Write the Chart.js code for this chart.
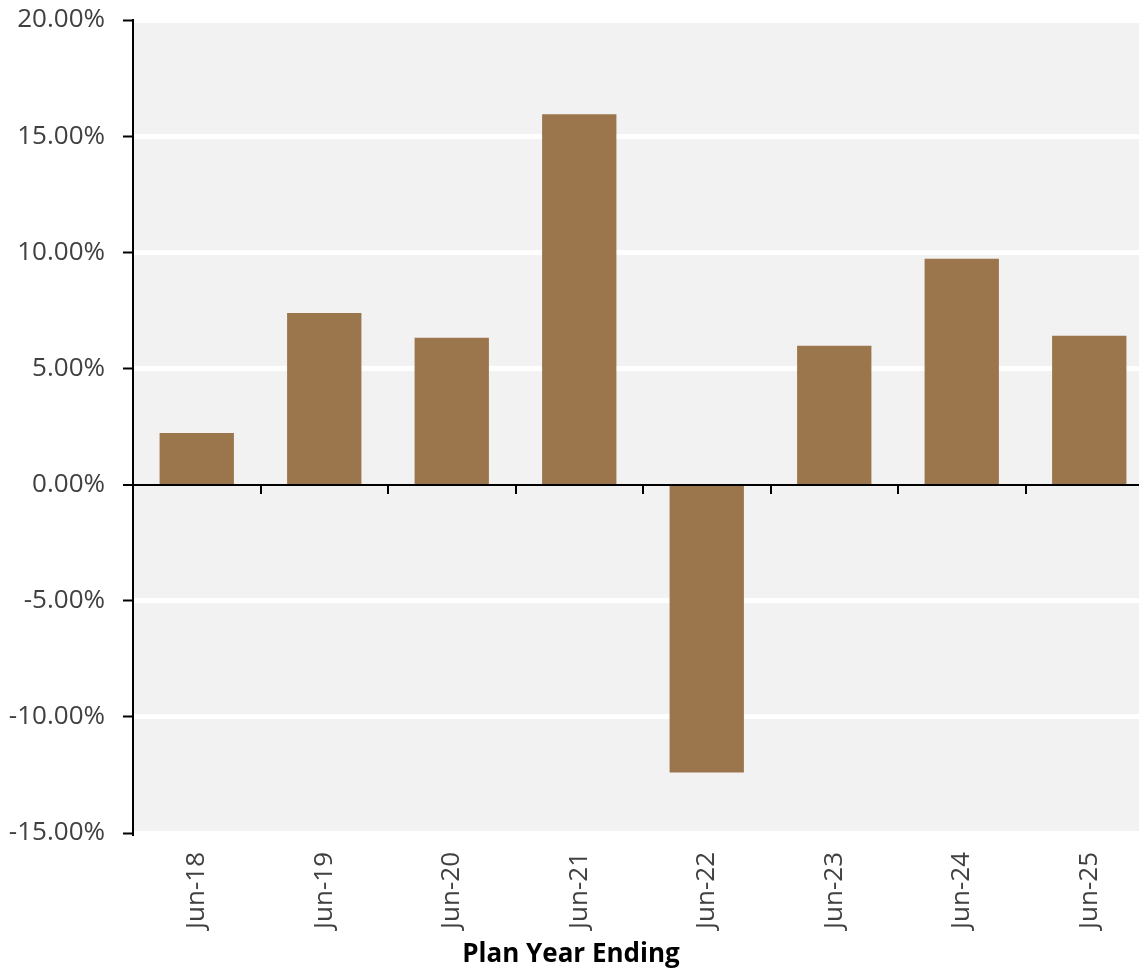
<!DOCTYPE html>
<html>
<head>
<meta charset="utf-8">
<script src="https://cdn.jsdelivr.net/npm/chart.js@4/dist/chart.umd.min.js"></script>
<style>
  html, body { margin: 0; padding: 0; background: #ffffff; overflow: hidden; }
  #wrap { position: relative; width: 1153px; height: 969px; }
</style>
</head>
<body>
<div id="wrap"><canvas id="chart"></canvas></div>
<script>
// Annual plan returns by plan year end
const categories = ['Jun-18', 'Jun-19', 'Jun-20', 'Jun-21', 'Jun-22', 'Jun-23', 'Jun-24', 'Jun-25'];
const returnsPct = [2.20, 7.37, 6.30, 15.92, -12.37, 5.95, 9.70, 6.39];
const yTicks = [-15, -10, -5, 0, 5, 10, 15, 20];
const xTitle = 'Plan Year Ending';

const FONT = "'Open Sans', 'Noto Sans', sans-serif";
const isZeroTick = ctx => !!ctx.tick && Math.abs(ctx.tick.value) < 1e-9;

// Light grey plot background behind the gridlines
const plotBackground = {
  id: 'plotBackground',
  beforeDraw(chart) {
    const { ctx, chartArea: a } = chart;
    ctx.save();
    ctx.fillStyle = '#f2f2f2';
    ctx.fillRect(a.left, a.top, a.right - a.left, a.bottom - a.top);
    ctx.restore();
  }
};

// Black zero baseline with small tick marks between categories
const zeroBaseline = {
  id: 'zeroBaseline',
  afterDatasetsDraw(chart) {
    const { ctx, chartArea: a } = chart;
    const x = chart.scales.x, y = chart.scales.y;
    const y0 = Math.round(y.getPixelForValue(0));
    ctx.save();
    ctx.strokeStyle = '#000';
    ctx.lineWidth = 2;
    ctx.beginPath();
    ctx.moveTo(a.left, y0);
    ctx.lineTo(a.right, y0);
    ctx.stroke();
    ctx.beginPath();
    for (let i = 1; i < categories.length; i++) {
      const bx = Math.round((x.getPixelForValue(i - 1) + x.getPixelForValue(i)) / 2);
      ctx.moveTo(bx, y0);
      ctx.lineTo(bx, y0 + 9);
    }
    ctx.stroke();
    ctx.restore();
  }
};

// Axis caption under the rotated category labels, centred on the visible page
const axisCaption = {
  id: 'axisCaption',
  afterDraw(chart) {
    const { ctx } = chart;
    ctx.save();
    ctx.fillStyle = '#000';
    ctx.font = "bold 26px " + FONT;
    ctx.textAlign = 'center';
    ctx.textBaseline = 'alphabetic';
    ctx.fillText(xTitle, 571, 962);
    ctx.restore();
  }
};

new Chart(document.getElementById('chart'), {
  type: 'bar',
  data: {
    labels: categories,
    datasets: [{
      data: returnsPct,
      backgroundColor: '#9b754c',
      borderWidth: 0,
      borderSkipped: false,
      inflateAmount: 0.5,
      barPercentage: 0.575,
      categoryPercentage: 1.0
    }]
  },
  options: {
    responsive: true,
    maintainAspectRatio: false,
    animation: false,
    layout: { padding: { top: 20, left: 0, right: 0, bottom: 0 } },
    plugins: {
      legend: { display: false },
      tooltip: { enabled: false }
    },
    scales: {
      x: {
        grid: { display: false, drawTicks: false },
        border: { display: false },
        ticks: {
          minRotation: 90,
          maxRotation: 90,
          padding: 19,
          color: '#404040',
          font: { family: FONT, size: 26 }
        },
        afterFit(scale) { scale.height = 136; }
      },
      y: {
        min: -15,
        max: 20,
        afterBuildTicks(scale) { scale.ticks = yTicks.map(v => ({ value: v })); },
        grid: {
          color: ctx => isZeroTick(ctx) ? 'rgba(0,0,0,0)' : '#ffffff',
          lineWidth: ctx => isZeroTick(ctx) ? 0 : 5,
          drawTicks: true,
          tickLength: 10,
          tickWidth: 2,
          tickColor: '#000'
        },
        border: { display: true, color: '#000', width: 2 },
        ticks: {
          padding: 18,
          color: '#404040',
          font: { family: FONT, size: 26 },
          callback: v => Number(v).toFixed(2) + '%'
        },
        afterFit(scale) {
          scale.width = 133;
          scale.paddingTop = 0;
          scale.paddingBottom = 0;
        }
      }
    }
  },
  plugins: [plotBackground, zeroBaseline, axisCaption]
});
</script>
</body>
</html>
